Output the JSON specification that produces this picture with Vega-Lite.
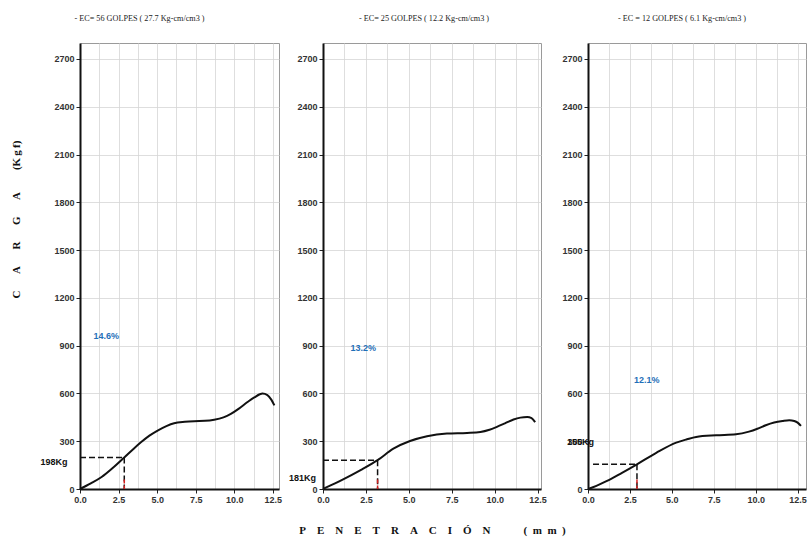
{
  "$schema": "https://vega.github.io/schema/vega-lite/v6.json",
  "background": "white",
  "padding": {"left": 9, "top": 13, "right": 2, "bottom": 2},
  "spacing": 44,
  "bounds": "flush",
  "datasets": {
    "curves": [
      {"panel": 1, "pen": 0, "carga": 0}, {"panel": 1, "pen": 0.7, "carga": 35}, {"panel": 1, "pen": 1.4, "carga": 75}, {"panel": 1, "pen": 2.1, "carga": 130}, {"panel": 1, "pen": 2.87, "carga": 198}, {"panel": 1, "pen": 3.5, "carga": 255}, {"panel": 1, "pen": 3.95, "carga": 293}, {"panel": 1, "pen": 4.5, "carga": 335}, {"panel": 1, "pen": 5.03, "carga": 367}, {"panel": 1, "pen": 5.6, "carga": 395}, {"panel": 1, "pen": 6.1, "carga": 413}, {"panel": 1, "pen": 6.8, "carga": 422}, {"panel": 1, "pen": 7.4, "carga": 426}, {"panel": 1, "pen": 8.1, "carga": 428}, {"panel": 1, "pen": 8.7, "carga": 435}, {"panel": 1, "pen": 9.3, "carga": 450}, {"panel": 1, "pen": 9.78, "carga": 472}, {"panel": 1, "pen": 10.3, "carga": 505}, {"panel": 1, "pen": 10.86, "carga": 546}, {"panel": 1, "pen": 11.3, "carga": 575}, {"panel": 1, "pen": 11.83, "carga": 599}, {"panel": 1, "pen": 12.15, "carga": 590}, {"panel": 1, "pen": 12.4, "carga": 561}, {"panel": 1, "pen": 12.6, "carga": 525},
      {"panel": 2, "pen": 0, "carga": 0}, {"panel": 2, "pen": 0.7, "carga": 35}, {"panel": 2, "pen": 1.4, "carga": 73}, {"panel": 2, "pen": 2.3, "carga": 125}, {"panel": 2, "pen": 3.18, "carga": 181}, {"panel": 2, "pen": 4.1, "carga": 253}, {"panel": 2, "pen": 5.07, "carga": 301}, {"panel": 2, "pen": 6.06, "carga": 331}, {"panel": 2, "pen": 7.22, "carga": 348}, {"panel": 2, "pen": 8.39, "carga": 352}, {"panel": 2, "pen": 9.17, "carga": 358}, {"panel": 2, "pen": 9.7, "carga": 372}, {"panel": 2, "pen": 10.13, "carga": 390}, {"panel": 2, "pen": 10.6, "carga": 412}, {"panel": 2, "pen": 11.1, "carga": 436}, {"panel": 2, "pen": 11.5, "carga": 448}, {"panel": 2, "pen": 11.9, "carga": 452}, {"panel": 2, "pen": 12.15, "carga": 445}, {"panel": 2, "pen": 12.36, "carga": 420},
      {"panel": 3, "pen": 0, "carga": 0}, {"panel": 3, "pen": 0.5, "carga": 20}, {"panel": 3, "pen": 1.1, "carga": 49}, {"panel": 3, "pen": 2.0, "carga": 100}, {"panel": 3, "pen": 2.92, "carga": 155}, {"panel": 3, "pen": 4.07, "carga": 227}, {"panel": 3, "pen": 5.26, "carga": 291}, {"panel": 3, "pen": 5.9, "carga": 312}, {"panel": 3, "pen": 6.45, "carga": 327}, {"panel": 3, "pen": 7.64, "carga": 337}, {"panel": 3, "pen": 8.83, "carga": 343}, {"panel": 3, "pen": 9.6, "carga": 360}, {"panel": 3, "pen": 10.1, "carga": 378}, {"panel": 3, "pen": 10.6, "carga": 400}, {"panel": 3, "pen": 11.1, "carga": 417}, {"panel": 3, "pen": 11.6, "carga": 427}, {"panel": 3, "pen": 12.0, "carga": 432}, {"panel": 3, "pen": 12.3, "carga": 427}, {"panel": 3, "pen": 12.5, "carga": 417}, {"panel": 3, "pen": 12.7, "carga": 396}
    ],
    "refs": [
      {"panel": 1, "px": 2.87, "py": 198, "hx": 0},
      {"panel": 2, "px": 3.18, "py": 181, "hx": 0},
      {"panel": 3, "px": 2.92, "py": 155, "hx": 0.3}
    ],
    "pcts": [
      {"panel": 1, "x": 1.7, "y": 958, "text": "14.6%"},
      {"panel": 2, "x": 2.35, "y": 886, "text": "13.2%"},
      {"panel": 3, "x": 3.5, "y": 683, "text": "12.1%"}
    ],
    "kgs": [
      {"panel": 1, "x": -1.68, "y": 170, "text": "198Kg"},
      {"panel": 2, "x": -1.2, "y": 72, "text": "181Kg"},
      {"panel": 3, "x": -0.45, "y": 295, "text": "155Kg"}
    ]
  },
  "config": {
    "view": {"stroke": "#9a9a9a", "strokeWidth": 1},
    "axis": {
      "labelFont": "Liberation Sans", "labelFontSize": 9, "labelColor": "#333", "labelFontWeight": "bold", "labelOverlap": false, "labelFlush": false,
      "domainColor": "#111", "domainWidth": 2, "tickColor": "#222", "tickSize": 4,
      "gridColor": "#d6d6d6", "gridWidth": 0.8,
      "titleFont": "Liberation Serif", "titleFontWeight": "bold", "titleFontSize": 11, "titleColor": "#111"
    },
    "title": {"font": "Liberation Serif", "fontSize": 8.2, "fontWeight": "normal", "color": "#222", "offset": 20}
  },
  "hconcat": [
    {
      "width": 199, "height": 446,
      "title": {"text": "- EC= 56 GOLPES ( 27.7 Kg-cm/cm3 )", "dx": -40},
      "resolve": {"axis": {"x": "independent"}},
      "layer": [
        {
          "data": {"name": "curves"}, "transform": [{"filter": "datum.panel == 1"}],
          "mark": {"type": "line", "color": "#111", "strokeWidth": 2, "interpolate": "monotone"},
          "encoding": {
            "x": {"field": "pen", "type": "quantitative", "scale": {"domain": [0, 12.9], "nice": false},
              "axis": {"values": [0, 2.5, 5, 7.5, 10, 12.5], "format": ".1f", "title": null}},
            "y": {"field": "carga", "type": "quantitative", "scale": {"domain": [0, 2800], "nice": false},
              "axis": {"values": [0, 150, 300, 450, 600, 750, 900, 1050, 1200, 1350, 1500, 1650, 1800, 1950, 2100, 2250, 2400, 2550, 2700], "labelExpr": "datum.value % 300 == 0 ? datum.value : ''",
                "title": "C\u2003\u2002A\u2003\u2002R\u2003\u2002G\u2003\u2002A\u2003\u2003(K\u2009g\u2009f)", "titleX": -64, "titleY": 176, "titleBaseline": "middle", "titleAngle": -90}}
          }
        },
        {
          "data": {"name": "refs"}, "transform": [{"filter": "datum.panel == 1"}],
          "mark": {"type": "rule", "color": "#111", "strokeWidth": 1.5, "strokeDash": [6, 3]},
          "encoding": {"x": {"field": "hx", "type": "quantitative", "axis": {"orient": "top", "values": [1.25, 3.75, 6.25, 8.75, 11.25], "labels": false, "ticks": false, "domain": false, "grid": true, "title": null}}, "x2": {"field": "px"}, "y": {"field": "py", "type": "quantitative"}}
        },
        {
          "data": {"name": "refs"}, "transform": [{"filter": "datum.panel == 1"}],
          "mark": {"type": "rule", "color": "#111", "strokeWidth": 1.5, "strokeDash": [6, 3]},
          "encoding": {"x": {"field": "px", "type": "quantitative", "axis": null}, "y": {"field": "py", "type": "quantitative"}, "y2": {"datum": 0}}
        },
        {
          "data": {"name": "refs"}, "transform": [{"filter": "datum.panel == 1"}],
          "mark": {"type": "rule", "color": "#d42020", "strokeWidth": 1.5, "strokeDash": [4, 2]},
          "encoding": {"x": {"field": "px", "type": "quantitative", "axis": null}, "y": {"datum": 60, "type": "quantitative"}, "y2": {"datum": 0}}
        },
        {
          "data": {"name": "pcts"}, "transform": [{"filter": "datum.panel == 1"}],
          "mark": {"type": "text", "color": "#1f6fb8", "font": "Liberation Sans", "fontSize": 9, "fontWeight": "bold"},
          "encoding": {"x": {"field": "x", "type": "quantitative", "axis": null}, "y": {"field": "y", "type": "quantitative"}, "text": {"field": "text"}}
        },
        {
          "data": {"name": "kgs"}, "transform": [{"filter": "datum.panel == 1"}],
          "mark": {"type": "text", "color": "#111", "font": "Liberation Sans", "fontSize": 9, "fontWeight": "bold"},
          "encoding": {"x": {"field": "x", "type": "quantitative", "axis": null}, "y": {"field": "y", "type": "quantitative"}, "text": {"field": "text"}}
        }
      ]
    },
    {
      "spacing": 47,
      "bounds": "flush",
      "hconcat": [
        {
          "width": 218, "height": 446,
          "title": {"text": "- EC= 25 GOLPES ( 12.2 Kg-cm/cm3 )", "dx": -8},
          "resolve": {"axis": {"x": "independent"}},
          "layer": [
            {
              "data": {"name": "curves"}, "transform": [{"filter": "datum.panel == 2"}],
              "mark": {"type": "line", "color": "#111", "strokeWidth": 2, "interpolate": "monotone"},
              "encoding": {
                "x": {"field": "pen", "type": "quantitative", "scale": {"domain": [0, 12.7], "nice": false},
                  "axis": {"values": [0, 2.5, 5, 7.5, 10, 12.5], "format": ".1f",
                    "title": "P\u2003E\u2003N\u2003E\u2003T\u2003R\u2003A\u2003C\u2003I\u2003Ó\u2003N\u2003\u2003\u2003(\u2002m\u2002m\u2002)", "titlePadding": 20, "titleFontSize": 11}},
                "y": {"field": "carga", "type": "quantitative", "scale": {"domain": [0, 2800], "nice": false},
                  "axis": {"values": [0, 150, 300, 450, 600, 750, 900, 1050, 1200, 1350, 1500, 1650, 1800, 1950, 2100, 2250, 2400, 2550, 2700], "labelExpr": "datum.value % 300 == 0 ? datum.value : ''", "title": null}}
              }
            },
            {
              "data": {"name": "refs"}, "transform": [{"filter": "datum.panel == 2"}],
              "mark": {"type": "rule", "color": "#111", "strokeWidth": 1.5, "strokeDash": [6, 3]},
              "encoding": {"x": {"field": "hx", "type": "quantitative", "axis": {"orient": "top", "values": [1.25, 3.75, 6.25, 8.75, 11.25], "labels": false, "ticks": false, "domain": false, "grid": true, "title": null}}, "x2": {"field": "px"}, "y": {"field": "py", "type": "quantitative"}}
            },
            {
              "data": {"name": "refs"}, "transform": [{"filter": "datum.panel == 2"}],
              "mark": {"type": "rule", "color": "#111", "strokeWidth": 1.5, "strokeDash": [6, 3]},
              "encoding": {"x": {"field": "px", "type": "quantitative", "axis": null}, "y": {"field": "py", "type": "quantitative"}, "y2": {"datum": 0}}
            },
            {
              "data": {"name": "refs"}, "transform": [{"filter": "datum.panel == 2"}],
              "mark": {"type": "rule", "color": "#d42020", "strokeWidth": 1.5, "strokeDash": [4, 2]},
              "encoding": {"x": {"field": "px", "type": "quantitative", "axis": null}, "y": {"datum": 60, "type": "quantitative"}, "y2": {"datum": 0}}
            },
            {
              "data": {"name": "pcts"}, "transform": [{"filter": "datum.panel == 2"}],
              "mark": {"type": "text", "color": "#1f6fb8", "font": "Liberation Sans", "fontSize": 9, "fontWeight": "bold"},
              "encoding": {"x": {"field": "x", "type": "quantitative", "axis": null}, "y": {"field": "y", "type": "quantitative"}, "text": {"field": "text"}}
            },
            {
              "data": {"name": "kgs"}, "transform": [{"filter": "datum.panel == 2"}],
              "mark": {"type": "text", "color": "#111", "font": "Liberation Sans", "fontSize": 9, "fontWeight": "bold"},
              "encoding": {"x": {"field": "x", "type": "quantitative", "axis": null}, "y": {"field": "y", "type": "quantitative"}, "text": {"field": "text"}}
            }
          ]
        },
        {
          "width": 218, "height": 446,
          "title": {"text": "- EC = 12 GOLPES ( 6.1 Kg-cm/cm3 )", "dx": -15},
          "resolve": {"axis": {"x": "independent"}},
          "layer": [
            {
              "data": {"name": "curves"}, "transform": [{"filter": "datum.panel == 3"}],
              "mark": {"type": "line", "color": "#111", "strokeWidth": 2, "interpolate": "monotone"},
              "encoding": {
                "x": {"field": "pen", "type": "quantitative", "scale": {"domain": [0, 13.0], "nice": false},
                  "axis": {"values": [0, 2.5, 5, 7.5, 10, 12.5], "format": ".1f", "title": null}},
                "y": {"field": "carga", "type": "quantitative", "scale": {"domain": [0, 2800], "nice": false},
                  "axis": {"values": [0, 150, 300, 450, 600, 750, 900, 1050, 1200, 1350, 1500, 1650, 1800, 1950, 2100, 2250, 2400, 2550, 2700], "labelExpr": "datum.value % 300 == 0 ? datum.value : ''", "title": null}}
              }
            },
            {
              "data": {"name": "refs"}, "transform": [{"filter": "datum.panel == 3"}],
              "mark": {"type": "rule", "color": "#111", "strokeWidth": 1.5, "strokeDash": [6, 3]},
              "encoding": {"x": {"field": "hx", "type": "quantitative", "axis": {"orient": "top", "values": [1.25, 3.75, 6.25, 8.75, 11.25], "labels": false, "ticks": false, "domain": false, "grid": true, "title": null}}, "x2": {"field": "px"}, "y": {"field": "py", "type": "quantitative"}}
            },
            {
              "data": {"name": "refs"}, "transform": [{"filter": "datum.panel == 3"}],
              "mark": {"type": "rule", "color": "#111", "strokeWidth": 1.5, "strokeDash": [6, 3]},
              "encoding": {"x": {"field": "px", "type": "quantitative", "axis": null}, "y": {"field": "py", "type": "quantitative"}, "y2": {"datum": 0}}
            },
            {
              "data": {"name": "refs"}, "transform": [{"filter": "datum.panel == 3"}],
              "mark": {"type": "rule", "color": "#d42020", "strokeWidth": 1.5, "strokeDash": [4, 2]},
              "encoding": {"x": {"field": "px", "type": "quantitative", "axis": null}, "y": {"datum": 60, "type": "quantitative"}, "y2": {"datum": 0}}
            },
            {
              "data": {"name": "pcts"}, "transform": [{"filter": "datum.panel == 3"}],
              "mark": {"type": "text", "color": "#1f6fb8", "font": "Liberation Sans", "fontSize": 9, "fontWeight": "bold"},
              "encoding": {"x": {"field": "x", "type": "quantitative", "axis": null}, "y": {"field": "y", "type": "quantitative"}, "text": {"field": "text"}}
            },
            {
              "data": {"name": "kgs"}, "transform": [{"filter": "datum.panel == 3"}],
              "mark": {"type": "text", "color": "#111", "font": "Liberation Sans", "fontSize": 9, "fontWeight": "bold"},
              "encoding": {"x": {"field": "x", "type": "quantitative", "axis": null}, "y": {"field": "y", "type": "quantitative"}, "text": {"field": "text"}}
            }
          ]
        }
      ]
    }
  ]
}
